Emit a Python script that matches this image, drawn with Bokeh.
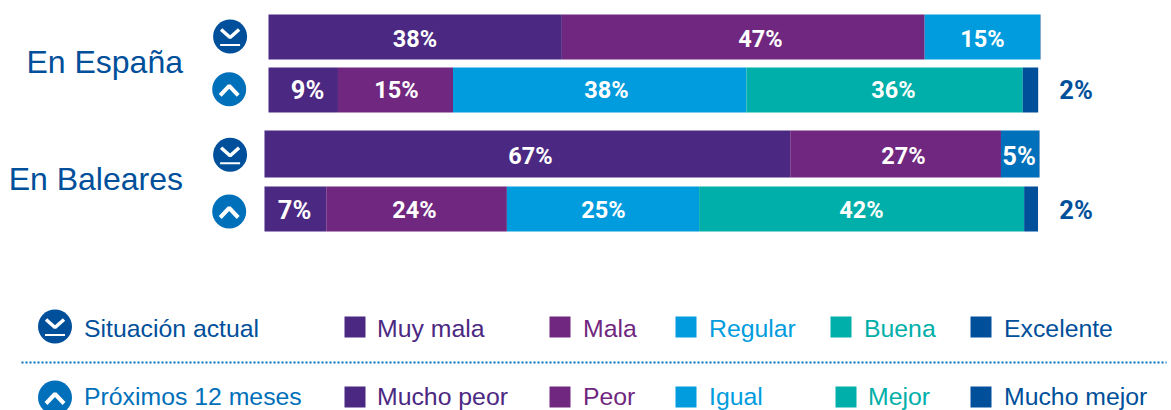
from bokeh.plotting import figure
from bokeh.models import Range1d, ColumnDataSource, LinearScale
from bokeh.core.properties import value
from bokeh.embed import file_html
from bokeh.resources import INLINE

# ---------- data ----------
row_names = ["España actual", "España 12 meses", "Baleares actual", "Baleares 12 meses"]
series_values = [
    [38.0, 47.0, 14.94, 0.06],
    [9.0, 14.9, 38.0, 35.8, 2.0],
    [68.1, 27.3, 4.94, 0.06],
    [8.0, 23.4, 24.9, 42.1, 1.8],
]
series_colors = [
    ["#4B2882", "#70277F", "#009CDE", "#004F9A"],
    ["#4B2882", "#70277F", "#009CDE", "#00AFA9", "#004F9A"],
    ["#4B2882", "#70277F", "#0070BA", "#004F9A"],
    ["#4B2882", "#70277F", "#009CDE", "#00AFA9", "#004F9A"],
]
bar_labels = [
    ["38%", "47%", "15%"],
    ["9%", "15%", "38%", "36%", "2%"],
    ["67%", "27%", "5%"],
    ["7%", "24%", "25%", "42%", "2%"],
]
group_labels = ["En España", "En Baleares"]
legend_titles = ["Situación actual", "Próximos 12 meses"]
legend_actual = ["Muy mala", "Mala", "Regular", "Buena", "Excelente"]
legend_future = ["Mucho peor", "Peor", "Igual", "Mejor", "Mucho mejor"]
legend_colors = ["#4B2882", "#70277F", "#009CDE", "#00AFA9", "#004F9A"]
legend_text_colors = ["#4B2882", "#70277F", "#009CDE", "#00AFA9", "#004F9A"]

# ---------- layout (page pixels) ----------
W, H = 1171, 410
row_top = [14, 67, 130, 186]
row_bottom = [59, 112, 177, 231]
row_start = [0.0, 0.0, -0.52, -0.52]
label_x = [
    [414.5, 760, 982],
    [307, 396, 606, 893, 1075.5],
    [530, 903, 1018.5],
    [294, 414, 603, 861, 1075.5],
]
label_y = [38, 89, 155, 209]

p = figure(width=W, height=H, output_backend="svg", toolbar_location=None,
           x_range=Range1d(0, W), y_range=Range1d(H, 0),
           min_border=0, outline_line_color=None, background_fill_color="white",
           border_fill_color="white")
p.axis.visible = False
p.grid.visible = False

# percent scale for bars: 0 -> x=268, 1 unit -> 7.72 px
px_per = 7.72
p.extra_x_ranges = {"pct": Range1d((0 - 268) / px_per, (W - 268) / px_per)}
p.extra_x_scales = {"pct": LinearScale()}

for i, vals in enumerate(series_values):
    left, lefts, rights = row_start[i], [], []
    for v in vals:
        lefts.append(left)
        rights.append(left + v)
        left += v
    src = ColumnDataSource(dict(l=lefts, r=rights, c=series_colors[i],
                                t=[row_top[i]] * len(vals), b=[row_bottom[i]] * len(vals)))
    p.quad(left="l", right="r", top="t", bottom="b", fill_color="c", line_color=None,
           source=src, x_range_name="pct")
    for j, lab in enumerate(bar_labels[i]):
        outside = lab == "2%"
        size = "25.5px" if len(lab) == 2 else "23.5px"
        p.text([label_x[i][j]], [label_y[i]], text=[lab], text_align="center",
               text_baseline="middle", text_font=value("Roboto"), text_font_style="bold",
               text_font_size=size, text_color="#004F9A" if outside else "white")

# group labels
for lab, yc in zip(group_labels, [61, 178]):
    p.text([182.5], [yc], text=[lab], text_align="right", text_baseline="middle",
           text_font=value("Liberation Sans"), text_font_size="32px", text_color="#004F9A")


def icon(cx, cy, kind, r=17):
    col = "#004F9A" if kind == "down" else "#0070BA"
    p.ellipse([cx], [cy], width=2 * r, height=2 * r, fill_color=col, line_color=None)
    if kind == "down":
        p.line([cx - 9, cx, cx + 9], [cy - 7, cy + 1, cy - 7], line_color="white", line_width=3.5)
        p.line([cx - 10, cx + 10], [cy + 8.5, cy + 8.5], line_color="white", line_width=2)
    else:
        p.line([cx - 9, cx, cx + 9], [cy + 6, cy - 3.5, cy + 6], line_color="white", line_width=4)


icon(229.6, 36, "down")
icon(228.7, 88.8, "up")
icon(229.6, 154.3, "down")
icon(228.7, 211, "up")
icon(54.5, 326, "down")
icon(54.5, 397, "up")

# legend
title_colors = ["#004F9A", "#0070BA"]
text_mid = [327.5, 395.5]
sq_top = [316, 386]
sq_x = [[344, 549, 675, 830, 970], [344, 549, 675, 835, 970]]
txt_x = [[376.5, 582.5, 708.5, 863.5, 1003.5], [376.5, 582.5, 708.5, 867.5, 1003.5]]
for k, names in enumerate([legend_actual, legend_future]):
    p.text([83.5], [text_mid[k]], text=[legend_titles[k]], text_baseline="middle",
           text_font=value("Liberation Sans"), text_font_size="24.8px", text_color=title_colors[k])
    for j, n in enumerate(names):
        p.quad(left=[sq_x[k][j]], right=[sq_x[k][j] + 21], top=[sq_top[k]], bottom=[sq_top[k] + 21],
               fill_color=legend_colors[j], line_color=None)
        p.text([txt_x[k][j]], [text_mid[k]], text=[n], text_baseline="middle",
               text_font=value("Liberation Sans"), text_font_size="24.8px",
               text_color=legend_text_colors[j])

p.line([21, 1166], [362, 362], line_color="#0070BA", line_width=2, line_dash="2 2")

open("out.html", "w").write(file_html(p, INLINE))
